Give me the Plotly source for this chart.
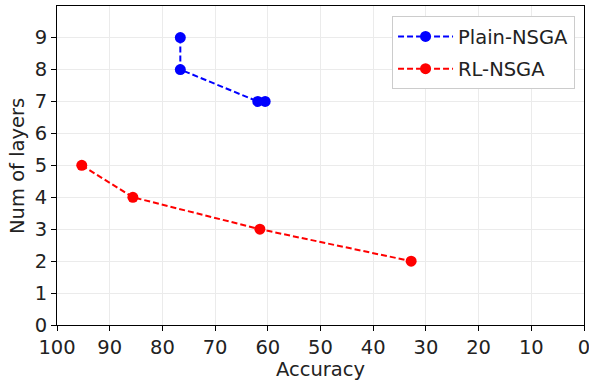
import plotly.graph_objects as go

plain_acc = [76.6, 76.6, 61.9, 60.5]
plain_layers = [9, 8, 7, 7]
rl_acc = [95.3, 85.6, 61.5, 32.8]
rl_layers = [5, 4, 3, 2]

x_ticks = [100, 90, 80, 70, 60, 50, 40, 30, 20, 10, 0]
y_ticks = [0, 1, 2, 3, 4, 5, 6, 7, 8, 9]

fig = go.Figure()
fig.add_trace(go.Scatter(x=plain_acc, y=plain_layers, mode="lines+markers", name="Plain-NSGA",
                         legendgroup="a",
                         line=dict(color="blue", dash="6px,3px", width=2), marker=dict(color="blue", size=11)))
fig.add_trace(go.Scatter(x=rl_acc, y=rl_layers, mode="lines+markers", name="RL-NSGA",
                         legendgroup="b",
                         line=dict(color="red", dash="6px,3px", width=2), marker=dict(color="red", size=11)))

axis_common = dict(showline=True, linecolor="black", linewidth=1, mirror=True,
                   showgrid=True, gridcolor="#ebebeb", gridwidth=1, zeroline=False,
                   ticks="outside", ticklen=5, tickcolor="black", automargin=False,
                   ticklabeloverflow="allow",
                   tickfont=dict(size=19.5, color="#222"))
fig.update_layout(
    width=589, height=382,
    margin=dict(l=57, r=5, t=6, b=57),
    plot_bgcolor="white", paper_bgcolor="white",
    font=dict(family="DejaVu Sans", color="#222"),
    xaxis=dict(range=[100, 0], tickvals=x_ticks, **axis_common),
    yaxis=dict(range=[0, 9.99], tickvals=y_ticks, **axis_common),
    legend=dict(x=0.983, y=0.968, xanchor="right", yanchor="top", bgcolor="white",
                bordercolor="#cccccc", borderwidth=1, font=dict(size=19.5),
                itemwidth=55, tracegroupgap=4),
    annotations=[
        dict(text="Accuracy", xref="paper", yref="paper", x=0.5, y=-0.14, yanchor="middle",
             showarrow=False, font=dict(size=19.5, color="#222")),
        dict(text="Num of layers", xref="paper", yref="paper", x=-0.075, y=0.5, xanchor="center",
             yanchor="middle", textangle=-90, showarrow=False, font=dict(size=19.5, color="#222")),
    ],
)
fig.write_html("out.html", config={"displayModeBar": False},
               post_script="document.body.style.margin='0';document.body.style.overflow='hidden';")
